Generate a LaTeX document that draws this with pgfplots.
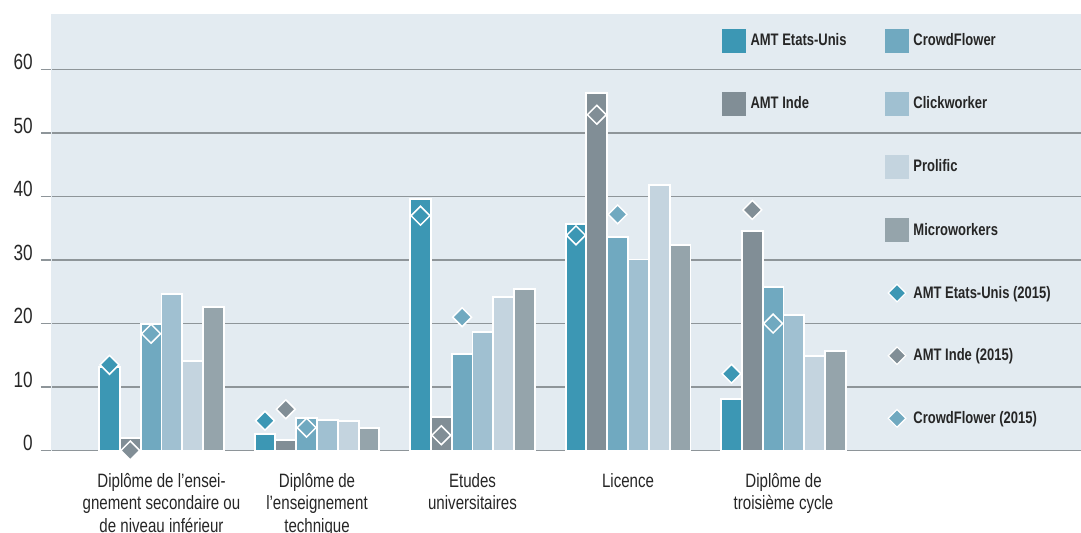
\documentclass[border=0pt]{standalone}
\usepackage{pgfplots}
\pgfplotsset{compat=1.18}
\usepackage{fontspec}
\setmainfont{Liberation Sans}[FakeStretch=0.78]
\definecolor{cA}{HTML}{3C97B4}
\definecolor{cB}{HTML}{818E96}
\definecolor{cC}{HTML}{70A9C0}
\definecolor{cD}{HTML}{A0C0D1}
\definecolor{cE}{HTML}{C4D4DF}
\definecolor{cF}{HTML}{95A4AB}
\definecolor{bg}{HTML}{E3EBF1}
\definecolor{gridc}{HTML}{8E9599}
\begin{document}
\begin{tikzpicture}
\begin{axis}[
  width=772.5pt, height=327.375pt, scale only axis,
  xmin=-0.7106, xmax=5.913, ymin=0, ymax=68.77,
  clip=false,
  axis background/.style={fill=bg},
  axis x line*=bottom, axis y line*=left,
  x axis line style={draw=gridc, line width=1.2pt, -},
  y axis line style={draw=bg, line width=0.1pt, -},
  ymajorgrids, grid style={draw=gridc, line width=1.2pt},
  ytick={0,10,...,60},
  tick align=outside, major tick length=7.5pt,
  ytick style={draw=gridc, line width=1.2pt},
  xtick={0,1,2,3,4},
  xtick style={draw=none},
  xticklabels={{Diplôme de l’ensei-\\gnement secondaire ou\\de niveau inférieur},{Diplôme de\\l’enseignement\\technique},{Etudes\\universitaires},{Licence},{Diplôme de\\troisième cycle}},
  xticklabel style={align=center, anchor=north, inner sep=0pt, yshift=-9.3pt, font=\fontsize{14.5}{16.9}\selectfont, text=black!85},
  yticklabel style={anchor=base east, inner sep=0pt, xshift=-6pt, font=\fontsize{16.5}{18}\selectfont, text=black!85},
  /pgf/number format/assume math mode=true,
  legend style={at={(0.6515,0.9668)}, anchor=north west, draw=none, fill=none, inner sep=0pt,
    font=\bfseries\fontsize{12.5}{15}\selectfont, text=black!85,
    nodes={inner xsep=3.5pt, inner ysep=0pt},
    legend columns=2, row sep=29.8pt,
    /tikz/every even column/.append style={column sep=25.5pt}},
  legend cell align=left,
]
\addlegendimage{legend image code/.code={\fill[cA] (0pt,-8.6pt) rectangle (17.25pt,8.6pt);}}
\addlegendentry{AMT Etats-Unis}
\addlegendimage{legend image code/.code={\fill[cC] (0pt,-8.6pt) rectangle (17.25pt,8.6pt);}}
\addlegendentry{CrowdFlower}
\addlegendimage{legend image code/.code={\fill[cB] (0pt,-8.6pt) rectangle (17.25pt,8.6pt);}}
\addlegendentry{AMT Inde}
\addlegendimage{legend image code/.code={\fill[cD] (0pt,-8.6pt) rectangle (17.25pt,8.6pt);}}
\addlegendentry{Clickworker}
\addlegendimage{empty legend}\addlegendentry{}
\addlegendimage{legend image code/.code={\fill[cE] (0pt,-8.6pt) rectangle (17.25pt,8.6pt);}}
\addlegendentry{Prolific}
\addlegendimage{empty legend}\addlegendentry{}
\addlegendimage{legend image code/.code={\fill[cF] (0pt,-8.6pt) rectangle (17.25pt,8.6pt);}}
\addlegendentry{Microworkers}
\addlegendimage{empty legend}\addlegendentry{}
\addlegendimage{legend image code/.code={\path[draw=none,fill=none] (0pt,-8.6pt) rectangle (17.25pt,8.6pt); \filldraw[fill=cA, draw=white, line width=0.9pt] (8.625pt,6.6pt) -- (15.225pt,0pt) -- (8.625pt,-6.6pt) -- (2.025pt,0pt) -- cycle;}}
\addlegendentry{AMT Etats-Unis (2015)}
\addlegendimage{empty legend}\addlegendentry{}
\addlegendimage{legend image code/.code={\path[draw=none,fill=none] (0pt,-8.6pt) rectangle (17.25pt,8.6pt); \filldraw[fill=cB, draw=white, line width=0.9pt] (8.625pt,6.6pt) -- (15.225pt,0pt) -- (8.625pt,-6.6pt) -- (2.025pt,0pt) -- cycle;}}
\addlegendentry{AMT Inde (2015)}
\addlegendimage{empty legend}\addlegendentry{}
\addlegendimage{legend image code/.code={\path[draw=none,fill=none] (0pt,-8.6pt) rectangle (17.25pt,8.6pt); \filldraw[fill=cC, draw=white, line width=0.9pt] (8.625pt,6.6pt) -- (15.225pt,0pt) -- (8.625pt,-6.6pt) -- (2.025pt,0pt) -- cycle;}}
\addlegendentry{CrowdFlower (2015)}

\pgfplotsinvokeforeach{0,10,20,30,40,50,60}{
  \draw[gridc, line width=1.2pt] ([xshift=-7.5pt]axis cs:-0.7106,#1) -- (axis cs:-0.7106,#1);
}

\addplot[forget plot, ybar, bar width=0.1338, bar shift=-0.3345, fill=cA, draw=white, line width=1.4pt]
  coordinates {(0,13.2) (1,2.6) (2,39.6) (3,35.7) (4,8.1)};
\addplot[forget plot, ybar, bar width=0.1338, bar shift=-0.2007, fill=cB, draw=white, line width=1.4pt]
  coordinates {(0,2.0) (1,1.6) (2,5.3) (3,56.3) (4,34.6)};
\addplot[forget plot, ybar, bar width=0.1338, bar shift=-0.0669, fill=cC, draw=white, line width=1.4pt]
  coordinates {(0,19.9) (1,5.1) (2,15.2) (3,33.6) (4,25.7)};
\addplot[forget plot, ybar, bar width=0.1338, bar shift=0.0669, fill=cD, draw=white, line width=1.4pt]
  coordinates {(0,24.6) (1,4.8) (2,18.7) (3,30.1) (4,21.3)};
\addplot[forget plot, ybar, bar width=0.1338, bar shift=0.2007, fill=cE, draw=white, line width=1.4pt]
  coordinates {(0,14.1) (1,4.6) (2,24.2) (3,41.8) (4,14.9)};
\addplot[forget plot, ybar, bar width=0.1338, bar shift=0.3345, fill=cF, draw=white, line width=1.4pt]
  coordinates {(0,22.6) (1,3.6) (2,25.4) (3,32.4) (4,15.7)};

\addplot[forget plot, only marks, mark=square*, mark size=5pt, mark options={rotate=45, fill=cA, draw=white, line width=1.1pt}]
  coordinates {(-0.3345,13.5) (0.6655,4.7) (1.6655,37.0) (2.6655,33.9) (3.6655,12.1)};
\addplot[forget plot, only marks, mark=square*, mark size=5pt, mark options={rotate=45, fill=cB, draw=white, line width=1.1pt}]
  coordinates {(-0.2007,0.0) (0.7993,6.5) (1.7993,2.4) (2.7993,52.9) (3.7993,37.9)};
\addplot[forget plot, only marks, mark=square*, mark size=5pt, mark options={rotate=45, fill=cC, draw=white, line width=1.1pt}]
  coordinates {(-0.0669,18.4) (0.9331,3.6) (1.9331,21.0) (2.9331,37.2) (3.9331,20.0)};
\end{axis}
\pgfresetboundingbox
\path (-38.25pt,-61.125pt) rectangle (772.5pt,337.875pt);
\end{tikzpicture}
\end{document}
